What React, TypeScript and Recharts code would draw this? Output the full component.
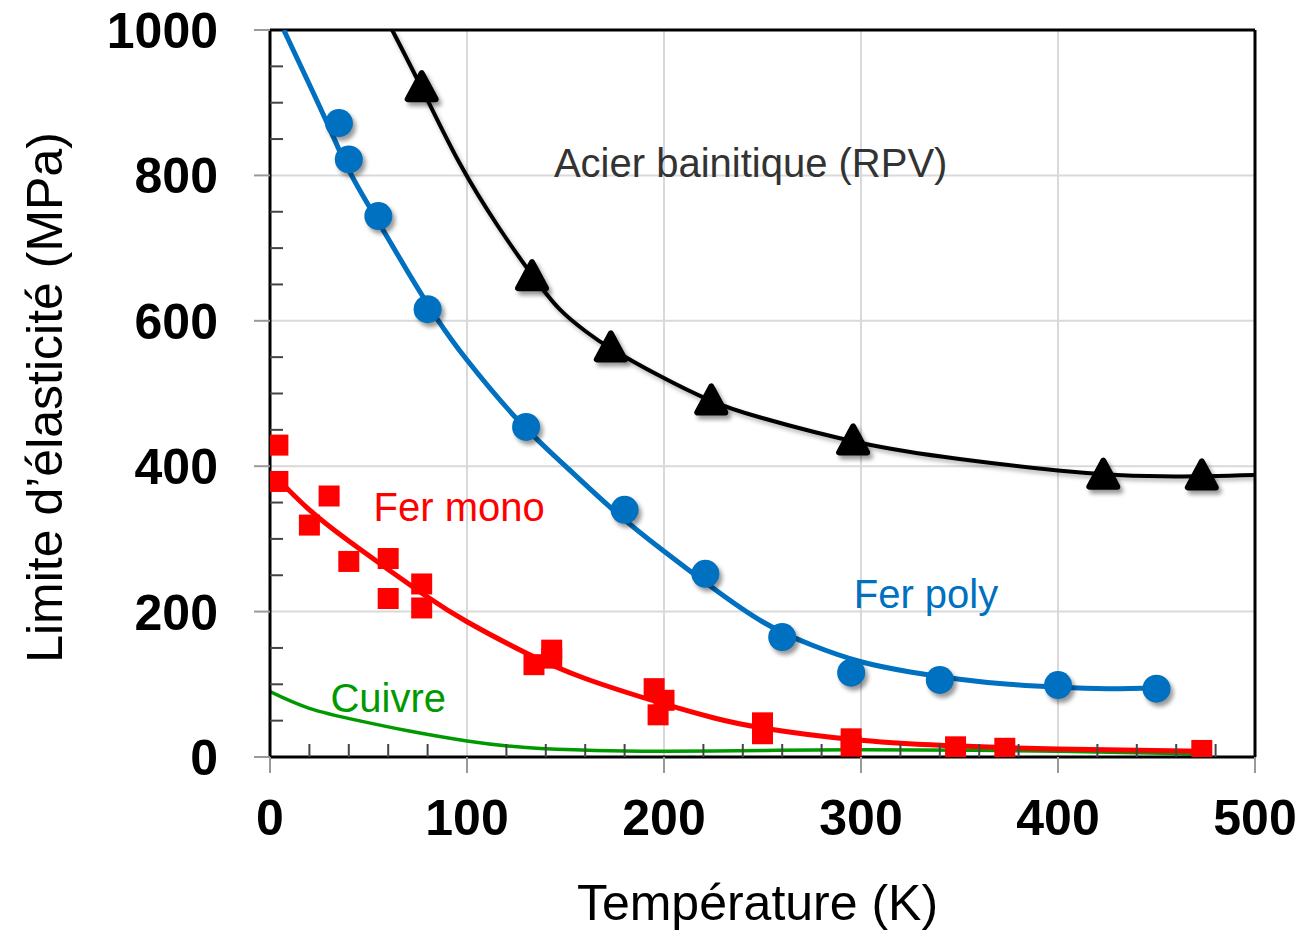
import {
  ComposedChart,
  Line,
  Scatter,
  XAxis,
  YAxis,
  CartesianGrid,
  ReferenceLine,
  ReferenceDot,
  Label,
} from "recharts";

const FONT = "'Liberation Sans', Arial, sans-serif";
const RED = "#ff0000";
const BLUE = "#0070c0";
const GREEN = "#009a00";
const BLACK = "#000000";

// graduations (majeures tous les 100 K / 200 MPa)
const xTicks = [
  0, 20, 40, 60, 80, 100, 120, 140, 160, 180, 200, 220, 240, 260, 280, 300,
  320, 340, 360, 380, 400, 420, 440, 460, 480, 500,
];
const yTicks = [
  0, 50, 100, 150, 200, 250, 300, 350, 400, 450, 500, 550, 600, 650, 700, 750,
  800, 850, 900, 950, 1000,
];
const xMajor = [0, 100, 200, 300, 400, 500];
const yMajor = [0, 200, 400, 600, 800, 1000];

// Acier bainitique (RPV) - triangles noirs
const acierPts = [
  { x: 77, y: 920 },
  { x: 133, y: 660 },
  { x: 173, y: 562 },
  { x: 224, y: 489 },
  { x: 296, y: 434 },
  { x: 423, y: 387 },
  { x: 473, y: 386 },
];
const acierFit = [
  { x: 62, y: 1000 },
  { x: 77, y: 920 },
  { x: 96, y: 818 },
  { x: 116, y: 729 },
  { x: 133, y: 663 },
  { x: 147, y: 616 },
  { x: 160, y: 586 },
  { x: 173, y: 562 },
  { x: 198, y: 524 },
  { x: 223, y: 491 },
  { x: 249, y: 467 },
  { x: 300, y: 432 },
  { x: 350, y: 410 },
  { x: 400, y: 394 },
  { x: 430, y: 388 },
  { x: 460, y: 386 },
  { x: 500, y: 388 },
];

// Fer poly - ronds bleus
const polyPts = [
  { x: 35, y: 872 },
  { x: 40, y: 822 },
  { x: 55, y: 744 },
  { x: 80, y: 616 },
  { x: 130, y: 454 },
  { x: 180, y: 340 },
  { x: 221, y: 252 },
  { x: 260, y: 165 },
  { x: 295, y: 116 },
  { x: 340, y: 106 },
  { x: 400, y: 99 },
  { x: 450, y: 94 },
];
const polyFit = [
  { x: 7, y: 1000 },
  { x: 20, y: 925 },
  { x: 30, y: 866 },
  { x: 41, y: 802 },
  { x: 55, y: 736 },
  { x: 70, y: 667 },
  { x: 85, y: 602 },
  { x: 100, y: 546 },
  { x: 125, y: 466 },
  { x: 150, y: 400 },
  { x: 175, y: 338 },
  { x: 200, y: 283 },
  { x: 225, y: 232 },
  { x: 250, y: 186 },
  { x: 275, y: 154 },
  { x: 300, y: 131 },
  { x: 325, y: 117 },
  { x: 350, y: 107 },
  { x: 375, y: 100 },
  { x: 400, y: 96 },
  { x: 425, y: 94 },
  { x: 450, y: 95 },
];

// Fer mono - carrés rouges
const monoPts = [
  { x: 4, y: 429 },
  { x: 4, y: 379 },
  { x: 20, y: 319 },
  { x: 30, y: 359 },
  { x: 40, y: 269 },
  { x: 60, y: 273 },
  { x: 60, y: 218 },
  { x: 77, y: 238 },
  { x: 77, y: 205 },
  { x: 134, y: 127 },
  { x: 143, y: 147 },
  { x: 143, y: 136 },
  { x: 195, y: 94 },
  { x: 200, y: 78 },
  { x: 197, y: 58 },
  { x: 250, y: 47 },
  { x: 250, y: 32 },
  { x: 295, y: 25 },
  { x: 295, y: 15 },
  { x: 348, y: 14 },
  { x: 373, y: 12 },
  { x: 473, y: 9 },
];
const monoFit = [
  { x: 3, y: 385 },
  { x: 20, y: 340 },
  { x: 40, y: 297 },
  { x: 60, y: 258 },
  { x: 80, y: 220 },
  { x: 100, y: 186 },
  { x: 130, y: 143 },
  { x: 160, y: 108 },
  { x: 200, y: 73 },
  { x: 225, y: 54 },
  { x: 250, y: 40 },
  { x: 300, y: 23 },
  { x: 350, y: 15 },
  { x: 400, y: 11 },
  { x: 473, y: 8 },
];

// Cuivre - courbe verte seule
const cuivreFit = [
  { x: 0, y: 90 },
  { x: 20, y: 67 },
  { x: 45, y: 50 },
  { x: 70, y: 36 },
  { x: 100, y: 22 },
  { x: 130, y: 13 },
  { x: 165, y: 9 },
  { x: 200, y: 8 },
  { x: 250, y: 9 },
  { x: 300, y: 10 },
  { x: 400, y: 8 },
  { x: 473, y: 4 },
];

const notes = [
  { text: "Acier bainitique (RPV)", x: 244, y: 817, color: "#333333" },
  { text: "Fer mono", x: 96, y: 344, color: RED },
  { text: "Fer poly", x: 333, y: 224, color: BLUE },
  { text: "Cuivre", x: 60, y: 82, color: GREEN },
];

const shadow = { filter: "drop-shadow(3px 4px 2px rgba(0,0,0,0.4))" };

const Triangle = (p: any) => (
  <path
    d={`M${p.cx},${p.cy - 15} L${p.cx - 14},${p.cy + 11} L${p.cx + 14},${p.cy + 11} Z`}
    fill={BLACK}
    stroke={BLACK}
    strokeWidth={6}
    strokeLinejoin="round"
    style={shadow}
  />
);
const Dot = (p: any) => <circle cx={p.cx} cy={p.cy} r={14} fill={BLUE} style={shadow} />;
const Square = (p: any) => (
  <rect x={p.cx - 10.5} y={p.cy - 10.5} width={21} height={21} fill={RED} />
);

const YTick = ({ x, y, payload }: any) => {
  const v = payload.value;
  if (yMajor.includes(v)) {
    return (
      <g>
        <line x1={x - 16} x2={x} y1={y} y2={y} stroke="#999" strokeWidth={2} />
        <text x={x - 52} y={y} dy="0.36em" textAnchor="end" fontSize={50} fontWeight="bold" fontFamily={FONT} fill="#000">
          {v}
        </text>
      </g>
    );
  }
  return <line x1={x} x2={x + 13} y1={y} y2={y} stroke="#444" strokeWidth={2} />;
};

const XTick = ({ x, y, payload }: any) => {
  const v = payload.value;
  if (xMajor.includes(v)) {
    return (
      <g>
        <line x1={x} x2={x} y1={y} y2={y + 16} stroke="#999" strokeWidth={2} />
        <text x={x} y={y + 78} textAnchor="middle" fontSize={50} fontWeight="bold" fontFamily={FONT} fill="#000">
          {v}
        </text>
      </g>
    );
  }
  return <line x1={x} x2={x} y1={y} y2={y - 13} stroke="#444" strokeWidth={2} />;
};

const YTitle = ({ viewBox }: any) => {
  const cx = viewBox.x + 62;
  const cy = viewBox.y + viewBox.height / 2 + 4;
  return (
    <text x={cx} y={cy} transform={`rotate(-90 ${cx} ${cy})`} textAnchor="middle" fontSize={50} fontFamily={FONT} fill="#000">
      Limite d’élasticité (MPa)
    </text>
  );
};

const XTitle = ({ viewBox }: any) => (
  <text x={viewBox.x + viewBox.width / 2 - 5} y={viewBox.y + 163} textAnchor="middle" fontSize={50} fontFamily={FONT} fill="#000">
    Température (K)
  </text>
);

export default function App() {
  return (
    <div style={{ position: "absolute", left: 0, top: 0, background: "#fff" }}>
      <ComposedChart width={1305} height={934} margin={{ top: 30, right: 50, bottom: 0, left: 0 }}>
        <CartesianGrid
          stroke="#d9d9d9"
          strokeWidth={2}
          horizontalValues={[200, 400, 600, 800]}
          verticalValues={[100, 200, 300, 400]}
        />
        <XAxis
          type="number"
          dataKey="x"
          domain={[0, 500]}
          ticks={xTicks}
          interval={0}
          allowDataOverflow
          height={177}
          tickSize={0}
          tickMargin={0}
          tick={<XTick />}
          axisLine={{ stroke: "#000", strokeWidth: 3 }}
        >
          <Label content={<XTitle />} />
        </XAxis>
        <YAxis
          type="number"
          domain={[0, 1000]}
          ticks={yTicks}
          interval={0}
          allowDataOverflow
          width={270}
          tickSize={0}
          tickMargin={0}
          tick={<YTick />}
          axisLine={{ stroke: "#000", strokeWidth: 3 }}
        >
          <Label content={<YTitle />} />
        </YAxis>
        <ReferenceLine y={1000} stroke="#000" strokeWidth={3} />
        <ReferenceLine x={500} stroke="#000" strokeWidth={3} />

        <Line data={cuivreFit} dataKey="y" type="natural" stroke={GREEN} strokeWidth={3.5} dot={false} activeDot={false} isAnimationActive={false} />
        <Line data={monoFit} dataKey="y" type="natural" stroke={RED} strokeWidth={5} dot={false} activeDot={false} isAnimationActive={false} />
        <Line data={polyFit} dataKey="y" type="natural" stroke={BLUE} strokeWidth={5} dot={false} activeDot={false} isAnimationActive={false} />
        <Line
          data={acierFit}
          dataKey="y"
          type="natural"
          stroke={BLACK}
          strokeWidth={4}
          dot={false}
          activeDot={false}
          isAnimationActive={false}
          style={{ filter: "drop-shadow(2px 3px 2px rgba(0,0,0,0.3))" }}
        />

        <Scatter data={monoPts} dataKey="y" shape={Square} isAnimationActive={false} />
        <Scatter data={polyPts} dataKey="y" shape={Dot} isAnimationActive={false} />
        <Scatter data={acierPts} dataKey="y" shape={Triangle} isAnimationActive={false} />

        {notes.map((n) => (
          <ReferenceDot
            key={n.text}
            x={n.x}
            y={n.y}
            r={0}
            fill="none"
            stroke="none"
            label={{ value: n.text, position: "center", fill: n.color, fontSize: 40, fontFamily: FONT }}
          />
        ))}
      </ComposedChart>
    </div>
  );
}
